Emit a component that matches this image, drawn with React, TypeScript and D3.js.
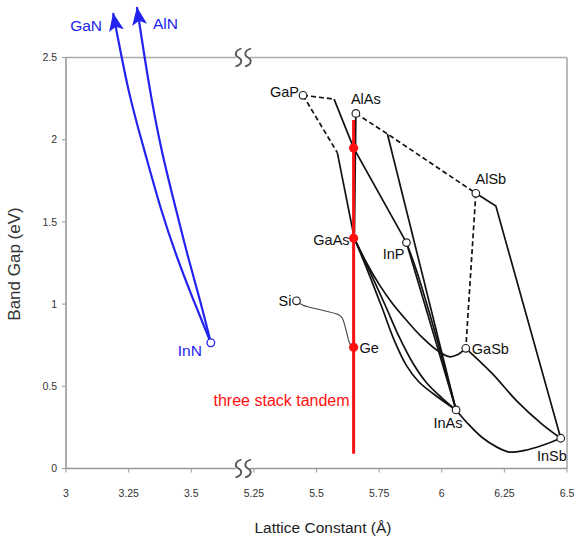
import React from 'react'
import * as d3 from 'd3'

// axis ticks (the x axis is broken between 3.7 and 5.2)
const xTicks = [3, 3.25, 3.5, 5.25, 5.5, 5.75, 6, 6.25, 6.5]
const yTicks = [0, 0.5, 1, 1.5, 2, 2.5]

// binary compounds: lattice constant (Å), band gap (eV)
const openPoints = [
  { name: 'GaP', a: 5.446, eg: 2.27 },
  { name: 'AlAs', a: 5.657, eg: 2.16 },
  { name: 'AlSb', a: 6.136, eg: 1.674 },
  { name: 'InP', a: 5.859, eg: 1.374 },
  { name: 'Si', a: 5.42, eg: 1.02 },
  { name: 'GaSb', a: 6.096, eg: 0.731 },
  { name: 'InAs', a: 6.057, eg: 0.356 },
  { name: 'InSb', a: 6.475, eg: 0.184 },
]
const nitridePoint = { name: 'InN', a: 3.578, eg: 0.765 }

// three stack tandem at a = 5.648
const tandemA = 5.648
const tandemRange = [0.09, 2.12]
const tandemPoints = [
  { name: 'GaAs', eg: 1.4 },
  { name: '', eg: 1.95 },
  { name: 'Ge', eg: 0.737 },
]

// nitride branches, InN -> arrow tip
const ganCurve = [[3.578, 0.765], [3.51, 1.02], [3.44, 1.3], [3.375, 1.6], [3.31, 1.95], [3.25, 2.3], [3.188, 2.771]]
const alnCurve = [[3.578, 0.765], [3.535, 1.02], [3.485, 1.3], [3.435, 1.6], [3.38, 1.95], [3.33, 2.35], [3.283, 2.807]]

// ternary alloys - indirect parts dashed
const dashedLines = [
  [[5.446, 2.27], [5.57, 2.247]],
  [[5.446, 2.27], [5.583, 1.921]],
  [[5.657, 2.16], [5.783, 2.035], [6.136, 1.674]],
  [[6.136, 1.674], [6.096, 0.731]],
]
const straightLines = [
  [[5.57, 2.247], [5.648, 1.95], [5.859, 1.374]],
  [[5.583, 1.921], [5.651, 1.4]],
  [[5.657, 2.16], [5.651, 1.4]],
  [[5.783, 2.035], [6.057, 0.356]],
  [[6.136, 1.674], [6.216, 1.597], [6.475, 0.184]],
  [[5.859, 1.374], [6.057, 0.356]],
]
const curvedLines = [
  // GaAs - GaSb
  [[5.651, 1.4], [5.7, 1.25], [5.75, 1.12], [5.8, 1.01], [5.86, 0.9], [5.92, 0.8], [5.98, 0.72], [6.03, 0.68], [6.06, 0.69], [6.096, 0.731]],
  // GaAs - InAs
  [[5.651, 1.4], [5.703, 1.207], [5.762, 0.976], [5.81, 0.781], [5.858, 0.629], [5.909, 0.526], [5.989, 0.429], [6.057, 0.356]],
  [[5.651, 1.4], [5.712, 1.2], [5.775, 0.99], [5.83, 0.8], [5.885, 0.64], [5.94, 0.52], [6.0, 0.43], [6.057, 0.356]],
  // InP - InAs
  [[5.859, 1.374], [5.9, 1.2], [5.95, 0.95], [6.0, 0.68], [6.057, 0.356]],
  // GaSb - InSb
  [[6.096, 0.731], [6.2, 0.58], [6.3, 0.41], [6.4, 0.27], [6.475, 0.184]],
  // InAs - InSb
  [[6.057, 0.356], [6.1, 0.28], [6.16, 0.19], [6.22, 0.13], [6.27, 0.1], [6.33, 0.11], [6.4, 0.14], [6.475, 0.184]],
]
const siGeCurve = [[5.42, 1.02], [5.444, 0.995], [5.59, 0.934], [5.603, 0.914], [5.63, 0.771], [5.64, 0.737]]

// label placement, pixels from the point
const labelPos = {
  GaP: { dx: -4, dy: 2, anchor: 'end' },
  AlAs: { dx: 10, dy: -9, anchor: 'middle' },
  AlSb: { dx: 15, dy: -9, anchor: 'middle' },
  InP: { dx: -2, dy: 16, anchor: 'end' },
  Si: { dx: -5, dy: 5, anchor: 'end' },
  GaSb: { dx: 6, dy: 6, anchor: 'start' },
  InAs: { dx: -8, dy: 18, anchor: 'middle' },
  InSb: { dx: 6, dy: 23, anchor: 'end' },
  GaAs: { dx: -4, dy: 7, anchor: 'end' },
  Ge: { dx: 6, dy: 6, anchor: 'start' },
  InN: { dx: -9, dy: 13, anchor: 'end' },
}

const W = 577
const H = 544
const left = 66
const right = 567
const top = 57.5
const bottom = 468.5

const font = "'Liberation Sans', Arial, sans-serif"
const blue = '#2323f0'
const red = '#ff1010'

const Squiggle = ({ cx, cy }) => {
  const s = (x) =>
    `M${x + 3},${cy - 9} C${x - 4},${cy - 7} ${x - 4},${cy - 2} ${x},${cy} C${x + 4},${cy + 2} ${x + 4},${cy + 7} ${x - 3},${cy + 9}`
  return (
    <g>
      <rect x={cx - 7} y={cy - 3} width={14} height={6} fill='#fff' />
      <path d={s(cx - 4.5)} fill='none' stroke='#555' strokeWidth={1.8} />
      <path d={s(cx + 5)} fill='none' stroke='#555' strokeWidth={1.8} />
    </g>
  )
}

const App = () => {
  const xScale = d3.scaleLinear().domain([3, 3.7, 5.2, 6.5]).range([left, 241.4, 241.4, right])
  const yScale = d3.scaleLinear().domain([0, 2.5]).range([bottom, top])

  const lineStraight = d3
    .line()
    .x((d) => xScale(d[0]))
    .y((d) => yScale(d[1]))
  const lineCurved = d3
    .line()
    .x((d) => xScale(d[0]))
    .y((d) => yScale(d[1]))
    .curve(d3.curveCatmullRom.alpha(0.5))
  const lineSmooth = d3
    .line()
    .x((d) => xScale(d[0]))
    .y((d) => yScale(d[1]))
    .curve(d3.curveNatural)

  const breakX = 243
  const tx = xScale(tandemA)

  return (
    <svg
      width={W}
      height={H}
      style={{ position: 'absolute', left: 0, top: 0, background: '#fff' }}
      fontFamily={font}
    >
      <defs>
        <marker id='arrow' viewBox='-20 -9 22 18' refX={0} refY={0} markerWidth={22} markerHeight={18} markerUnits='userSpaceOnUse' orient='auto'>
          <path d='M0,0 L-18,-7.5 L-14,0 L-18,7.5 Z' fill={blue} />
        </marker>
      </defs>

      {/* frame */}
      <line x1={left} x2={right} y1={top} y2={top} stroke='#aaa' strokeWidth={1.6} />
      <line x1={right} x2={right} y1={top} y2={bottom} stroke='#aaa' strokeWidth={1.6} />
      <line x1={left} x2={left} y1={top} y2={bottom + 0.5} stroke='#999' strokeWidth={1.6} />
      <line x1={left} x2={right} y1={bottom} y2={bottom} stroke='#999' strokeWidth={1.6} />

      {xTicks.map((t) => (
        <g key={'x' + t}>
          <line x1={xScale(t)} x2={xScale(t)} y1={bottom} y2={bottom + 4} stroke='#999' strokeWidth={1} />
          <text x={xScale(t)} y={bottom + 28} textAnchor='middle' fontSize={10.5} fill='#333'>
            {t}
          </text>
        </g>
      ))}
      {yTicks.map((t) => (
        <g key={'y' + t}>
          <line x1={left - 4} x2={left} y1={yScale(t)} y2={yScale(t)} stroke='#999' strokeWidth={1} />
          <text x={left - 9} y={yScale(t)} dy='0.35em' textAnchor='end' fontSize={10.5} fill='#333'>
            {t}
          </text>
        </g>
      ))}
      <Squiggle cx={breakX} cy={top} />
      <Squiggle cx={breakX} cy={bottom} />

      <text x={323} y={533} textAnchor='middle' fontSize={15.5} fill='#222'>
        Lattice Constant (Å)
      </text>
      <text transform={`translate(20,264) rotate(-90)`} textAnchor='middle' fontSize={17} fill='#333'>
        Band Gap (eV)
      </text>

      {/* nitrides */}
      <path d={lineSmooth(ganCurve)} fill='none' stroke={blue} strokeWidth={2.2} markerEnd='url(#arrow)' />
      <path d={lineSmooth(alnCurve)} fill='none' stroke={blue} strokeWidth={2.2} markerEnd='url(#arrow)' />
      <circle cx={xScale(nitridePoint.a)} cy={yScale(nitridePoint.eg)} r={3.8} fill='#fff' stroke={blue} strokeWidth={1.3} />
      <text x={xScale(3.188) - 27} y={yScale(2.771) + 18} textAnchor='middle' fontSize={15.5} fill={blue}>
        GaN
      </text>
      <text x={xScale(3.283) + 16} y={yScale(2.807) + 22} textAnchor='start' fontSize={15.5} fill={blue}>
        AlN
      </text>
      <text
        x={xScale(nitridePoint.a) + labelPos.InN.dx}
        y={yScale(nitridePoint.eg) + labelPos.InN.dy}
        textAnchor={labelPos.InN.anchor}
        fontSize={15.5}
        fill={blue}
      >
        {nitridePoint.name}
      </text>

      {/* alloys */}
      <path d={lineCurved(siGeCurve)} fill='none' stroke='#444' strokeWidth={1.1} />
      {dashedLines.map((d, i) => (
        <path key={'d' + i} d={lineStraight(d)} fill='none' stroke='#111' strokeWidth={1.7} strokeDasharray='5,3' />
      ))}
      {straightLines.map((d, i) => (
        <path key={'s' + i} d={lineStraight(d)} fill='none' stroke='#111' strokeWidth={1.7} />
      ))}
      {curvedLines.map((d, i) => (
        <path key={'c' + i} d={lineCurved(d)} fill='none' stroke='#111' strokeWidth={1.7} />
      ))}

      {/* tandem */}
      <line x1={tx} x2={tx} y1={yScale(tandemRange[0])} y2={yScale(tandemRange[1])} stroke={red} strokeWidth={3} />
      {tandemPoints.map((p) => (
        <circle key={'t' + p.eg} cx={tx} cy={yScale(p.eg)} r={4.6} fill={red} />
      ))}
      <text x={tx - 4} y={406} textAnchor='end' fontSize={16} fill={red}>
        three stack tandem
      </text>

      {openPoints.map((p) => (
        <circle key={p.name} cx={xScale(p.a)} cy={yScale(p.eg)} r={3.8} fill='#fff' stroke='#222' strokeWidth={1.2} />
      ))}
      {openPoints.concat(tandemPoints.filter((p) => p.name).map((p) => ({ ...p, a: tandemA }))).map((p) => {
        const lp = labelPos[p.name]
        return (
          <text
            key={'l' + p.name}
            x={xScale(p.a) + lp.dx}
            y={yScale(p.eg) + lp.dy}
            textAnchor={lp.anchor}
            fontSize={14.5}
            fill='#111'
          >
            {p.name}
          </text>
        )
      })}
    </svg>
  )
}

export default App
